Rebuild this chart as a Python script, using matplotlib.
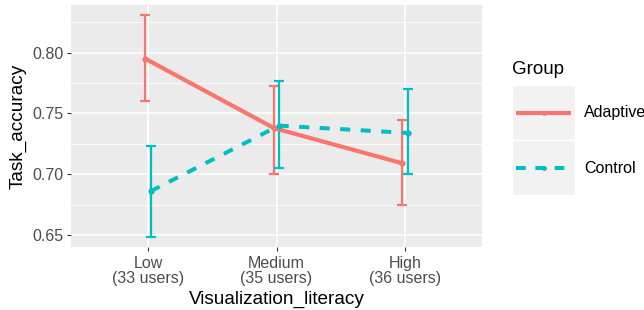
import numpy as np
import matplotlib.pyplot as plt
from matplotlib.patches import Rectangle
from matplotlib.lines import Line2D

plt.rcParams['font.family'] = ['Liberation Sans', 'DejaVu Sans']

# data
levels = ["Low\n(33 users)", "Medium\n(35 users)", "High\n(36 users)"]
groups = ["Adaptive", "Control"]
adaptive_mean = [0.795, 0.738, 0.709]
adaptive_low = [0.760, 0.700, 0.675]
adaptive_high = [0.831, 0.773, 0.745]
control_mean = [0.686, 0.740, 0.734]
control_low = [0.648, 0.705, 0.700]
control_high = [0.723, 0.777, 0.770]
yticks = [0.65, 0.70, 0.75, 0.80]

RED = "#F8766D"
CYAN = "#00BFC4"
GREY30 = "#4D4D4D"
GREY20 = "#333333"

fig = plt.figure(figsize=(6.44, 3.10), dpi=100)
W, H = 644, 310
ax = fig.add_axes([71 / W, 1 - 247 / H, (482 - 71) / W, (247 - 5) / H])
ax.set_facecolor("#EBEBEB")
for s in ax.spines.values():
    s.set_visible(False)

x = np.arange(1, len(levels) + 1)
dodge = 0.02
series = [
    (adaptive_mean, adaptive_low, adaptive_high, RED, "-", x - dodge),
    (control_mean, control_low, control_high, CYAN, "--", x + dodge),
]

for mean, lo, hi, col, ls, xs in series:
    mean = np.array(mean)
    err = [mean - np.array(lo), np.array(hi) - mean]
    ax.errorbar(xs, mean, yerr=err, fmt="none", ecolor=col, elinewidth=1.6,
                capsize=3.3, capthick=1.6, zorder=3)
for mean, lo, hi, col, ls, xs in series:
    if ls == "-":
        ax.plot(xs, mean, color=col, lw=3.0, solid_capstyle="butt", zorder=4)
    else:
        ax.plot(xs, mean, color=col, lw=2.9, dashes=(2.5, 2.6),
                dash_capstyle="butt", zorder=4)
    ax.plot(xs, mean, "o", color=col, ms=4.5, mec="none", zorder=5)

ax.set_xlim(0.4, 3.6)
ax.set_ylim(0.6401, 0.8393)
ax.set_xticks(x)
ax.set_xticklabels(levels)
ax.set_yticks(yticks)
ax.set_yticklabels([f"{v:.2f}" for v in yticks])
ax.set_yticks([0.675, 0.725, 0.775, 0.825], minor=True)
ax.grid(True, which="major", color="white", lw=1.2, zorder=0)
ax.grid(True, which="minor", axis="y", color="white", lw=0.6, zorder=0)
ax.set_axisbelow(True)
ax.tick_params(which="major", length=3.2, width=0.8, color=GREY20,
               labelsize=11.5, labelcolor=GREY30, pad=2)
ax.tick_params(which="minor", length=0)
ax.tick_params(axis="x", pad=3)
for lab in ax.get_xticklabels():
    lab.set_linespacing(1.05)

ax.set_xlabel("Visualization_literacy", fontsize=13.7, labelpad=3)
ax.set_ylabel("Task_accuracy", fontsize=13.7, labelpad=4)

# legend drawn by hand, ggplot style
lax = fig.add_axes([512 / W, 1 - 195 / H, 63 / W, 110 / H])
lax.set_xlim(0, 1)
lax.set_ylim(0, 2)
lax.axis("off")
for i, (g, col) in enumerate(zip(groups, [RED, CYAN])):
    yb = 1 - i
    lax.add_patch(Rectangle((0, yb), 1, 1, facecolor="#F2F2F2",
                            edgecolor="white", lw=1.0))
    if i == 0:
        lax.add_line(Line2D([0.06, 0.94], [yb + 0.5] * 2, color=col, lw=3.0,
                            solid_capstyle="butt"))
    else:
        lax.add_line(Line2D([0.06, 0.94], [yb + 0.5] * 2, color=col, lw=2.9,
                            dashes=(2.4, 2.4), dash_capstyle="butt"))
    lax.plot([0.5], [yb + 0.5], "o", color=col, ms=3.5, mec="none")
    fig.text(584 / W, 1 - (112 + 56 * i) / H, g, fontsize=11.5,
             va="center", ha="left", color="black")
fig.text(512 / W, 1 - 69 / H, "Group", fontsize=13.5, va="center", ha="left")

fig.savefig("out.png", dpi=100)
